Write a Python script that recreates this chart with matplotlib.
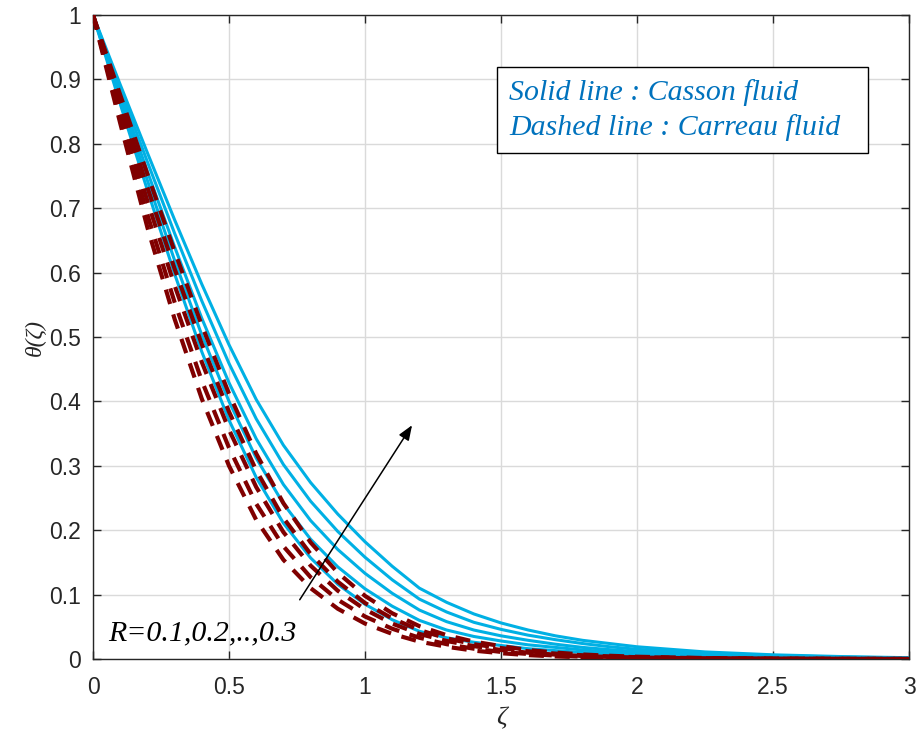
import matplotlib
matplotlib.use("Agg")
import matplotlib.pyplot as plt
from matplotlib.patches import Rectangle

# ---- data ----
zeta = [0, 0.1, 0.2, 0.3, 0.4, 0.5, 0.6, 0.7, 0.8, 0.9, 1.0, 1.1, 1.2,
        1.3, 1.4, 1.5, 1.6, 1.7, 1.8, 1.9, 2.0, 2.25, 2.5, 2.75, 3.0]

casson_R1 = [1, 0.862, 0.728, 0.598, 0.477, 0.371, 0.282, 0.211, 0.157, 0.116, 0.085, 0.061, 0.043,
             0.033, 0.026, 0.021, 0.016, 0.013, 0.010, 0.008, 0.006, 0.0035, 0.002, 0.001, 0.0005]
casson_R2 = [1, 0.870, 0.743, 0.619, 0.503, 0.400, 0.312, 0.241, 0.186, 0.143, 0.109, 0.082, 0.060,
             0.045, 0.035, 0.028, 0.022, 0.018, 0.014, 0.011, 0.0088, 0.005, 0.003, 0.0015, 0.0008]
casson_R3 = [1, 0.877, 0.757, 0.640, 0.529, 0.429, 0.342, 0.271, 0.215, 0.170, 0.133, 0.102, 0.076,
             0.058, 0.045, 0.036, 0.029, 0.023, 0.018, 0.0145, 0.0115, 0.0068, 0.004, 0.002, 0.001]
casson_R4 = [1, 0.885, 0.772, 0.661, 0.556, 0.459, 0.373, 0.302, 0.245, 0.198, 0.158, 0.123, 0.093,
             0.073, 0.057, 0.046, 0.037, 0.030, 0.024, 0.019, 0.015, 0.009, 0.0055, 0.003, 0.0015]
casson_R5 = [1, 0.892, 0.786, 0.682, 0.582, 0.488, 0.403, 0.332, 0.274, 0.225, 0.182, 0.144, 0.110,
             0.088, 0.070, 0.056, 0.045, 0.036, 0.029, 0.024, 0.019, 0.011, 0.0065, 0.0038, 0.002]

carreau_R1 = [1, 0.832, 0.670, 0.528, 0.404, 0.300, 0.216, 0.154, 0.110, 0.078, 0.055, 0.039, 0.027,
              0.019, 0.013, 0.009, 0.006, 0.004, 0.0027, 0.0018, 0.0012, 0.0005, 0.0002, 0.0001, 0.0]
carreau_R2 = [1, 0.842, 0.690, 0.554, 0.432, 0.328, 0.241, 0.175, 0.127, 0.092, 0.066, 0.047, 0.033,
              0.023, 0.016, 0.011, 0.0078, 0.0053, 0.0036, 0.0025, 0.0017, 0.0007, 0.0003, 0.0001, 0.0]
carreau_R3 = [1, 0.853, 0.711, 0.580, 0.461, 0.356, 0.267, 0.197, 0.145, 0.106, 0.077, 0.055, 0.039,
              0.028, 0.020, 0.014, 0.0098, 0.0068, 0.0047, 0.0032, 0.0022, 0.001, 0.0004, 0.0002, 0.0001]
carreau_R4 = [1, 0.864, 0.732, 0.606, 0.489, 0.384, 0.293, 0.219, 0.163, 0.120, 0.087, 0.063, 0.045,
              0.032, 0.023, 0.017, 0.012, 0.0084, 0.0058, 0.004, 0.0028, 0.0012, 0.0005, 0.0002, 0.0001]
carreau_R5 = [1, 0.876, 0.753, 0.633, 0.518, 0.412, 0.319, 0.242, 0.181, 0.134, 0.098, 0.071, 0.051,
              0.037, 0.027, 0.020, 0.014, 0.010, 0.007, 0.005, 0.0035, 0.0015, 0.0007, 0.0003, 0.0001]

casson = [casson_R1, casson_R2, casson_R3, casson_R4, casson_R5]
carreau = [carreau_R1, carreau_R2, carreau_R3, carreau_R4, carreau_R5]

xticks = [0, 0.5, 1, 1.5, 2, 2.5, 3]
xticklabels = ["0", "0.5", "1", "1.5", "2", "2.5", "3"]
yticks = [0, 0.1, 0.2, 0.3, 0.4, 0.5, 0.6, 0.7, 0.8, 0.9, 1]
yticklabels = ["0", "0.1", "0.2", "0.3", "0.4", "0.5", "0.6", "0.7", "0.8", "0.9", "1"]

note_lines = ["Solid line : Casson fluid", "Dashed line : Carreau fluid"]
arrow_label = "R=0.1,0.2,..,0.3"

# ---- figure ----
fig = plt.figure(figsize=(9.19, 7.40), dpi=100)
ax = fig.add_axes([93/919, 1-659/740, 816/919, 644/740])

cyan = "#00B0E4"
dred = "#800000"

for y in casson:
    ax.plot(zeta, y, color=cyan, lw=2.2, solid_joinstyle="round", zorder=3)
for y in carreau:
    ax.plot(zeta, y, color=dred, lw=3.0, linestyle=(0, (3.6, 2.6)), zorder=4)

ax.set_xlim(0, 3)
ax.set_ylim(0, 1)
ax.set_xticks(xticks)
ax.set_xticklabels(xticklabels)
ax.set_yticks(yticks)
ax.set_yticklabels(yticklabels)
ax.grid(True, color="#DADADA", lw=1.0, zorder=0)
ax.set_axisbelow(True)
ax.tick_params(direction="in", length=6, width=1, colors="#262626",
               top=True, right=True, labelsize=16.5)
ax.tick_params(axis="x", pad=12)
ax.tick_params(axis="y", pad=9)
for lab in ax.get_xticklabels() + ax.get_yticklabels():
    lab.set_fontfamily("Liberation Sans")
    lab.set_color("#262626")
for s in ax.spines.values():
    s.set_color("#262626")
    s.set_linewidth(1.0)

serif = "Liberation Serif"
ax.set_xlabel("ζ", fontsize=19, fontfamily=serif, fontstyle="italic", labelpad=6, color="#262626")
ax.set_ylabel("θ(ζ)", fontsize=17, fontfamily=serif, fontstyle="italic", labelpad=2, color="#262626")

# annotation arrow and label
ax.annotate("", xy=(1.173, 0.363), xytext=(0.76, 0.092),
            arrowprops=dict(arrowstyle="-|>,head_length=0.9,head_width=0.35",
                            color="black", lw=1.1, shrinkA=0, shrinkB=0), zorder=6)
ax.text(0.055, 0.04, arrow_label, fontsize=21.5, fontfamily=serif,
        fontstyle="italic", color="black", ha="left", va="center", zorder=6)

# boxed note
ax.add_patch(Rectangle((0.495, 0.786), 0.455, 0.133, transform=ax.transAxes,
                       fc="white", ec="black", lw=1.0, zorder=7))
for yy, line in zip([0.879, 0.826], note_lines):
    ax.text(0.510, yy, line, transform=ax.transAxes, fontsize=21.5, fontfamily=serif,
            fontstyle="italic", color="#0072BD", ha="left", va="center", zorder=8)

fig.savefig("out.png", dpi=100)
